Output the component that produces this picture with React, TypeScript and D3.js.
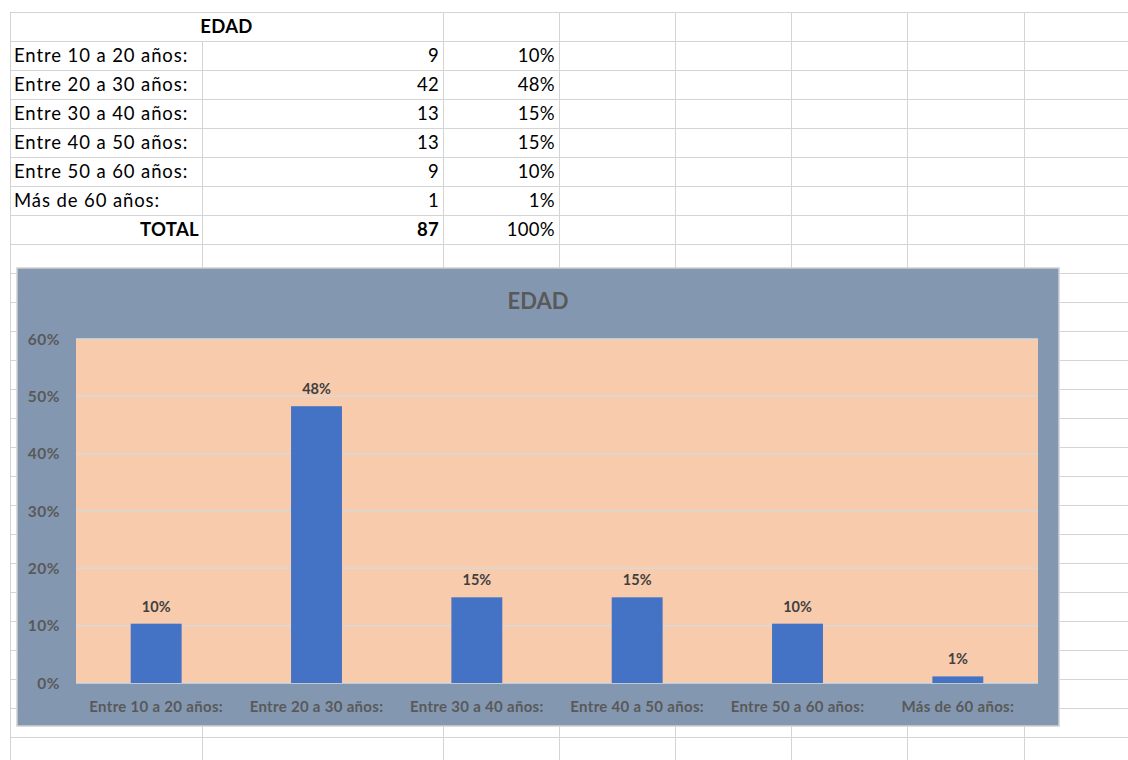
import React from "react";
import * as d3 from "d3";

const title = "EDAD";
const categories = [
  "Entre 10 a 20 años:",
  "Entre 20 a 30 años:",
  "Entre 30 a 40 años:",
  "Entre 40 a 50 años:",
  "Entre 50 a 60 años:",
  "Más de 60 años:",
];
const counts = [9, 42, 13, 13, 9, 1];
const totalLabel = "TOTAL";
const yTicks = [0, 0.1, 0.2, 0.3, 0.4, 0.5, 0.6];

const W = 1128;
const H = 760;
const FONT = "Lato, 'Open Sans', sans-serif";

export default function App() {
  const total = d3.sum(counts);
  const shares = counts.map((c) => c / total);
  const pct = d3.format(".0%");

  // spreadsheet grid
  const rowTop = 12;
  const rowH = 29;
  const colX = [10, 202, 443, 559, 675, 791, 907, 1024];
  const rowLines = d3.range(0, 27).map((k) => rowTop + rowH * k);

  // chart box
  const cx0 = 17, cx1 = 1059, cy0 = 268, cy1 = 726;
  const px0 = 76, px1 = 1038, py0 = 339, py1 = 683;

  const x = d3.scaleBand<string>().domain(categories).range([px0, px1]).paddingInner(0).paddingOuter(0);
  const y = d3.scaleLinear().domain([0, 0.6]).range([py1, py0]);
  const barW = x.bandwidth() / 3.15;

  const tableRows = categories.map((c, i) => ({ label: c, n: counts[i], p: pct(shares[i]) }));
  const ty = (r: number) => rowTop + rowH * r + rowH / 2 + 6.5;

  return (
    <div style={{ position: "absolute", left: 0, top: 0 }}>
      <svg width={W} height={H} style={{ display: "block", background: "#fff" }}>
        {/* grid */}
        <g stroke="#d4d4d4" strokeWidth={1} shapeRendering="crispEdges">
          {rowLines.map((yy, i) => (
            <line key={"h" + i} x1={colX[0]} x2={W} y1={yy + 0.5} y2={yy + 0.5} />
          ))}
          {colX.map((xx, i) => (
            <line key={"v" + i} x1={xx + 0.5} x2={xx + 0.5} y1={i === 1 ? rowTop + rowH : rowTop} y2={H} />
          ))}
        </g>

        {/* table text */}
        <g fontFamily={FONT} fontSize={18.5} fill="#000" letterSpacing={0.3}>
          <text x={(colX[0] + colX[2]) / 2} y={ty(0)} textAnchor="middle" fontWeight="bold">
            {title}
          </text>
          {tableRows.map((r, i) => (
            <g key={i}>
              <text x={colX[0] + 4} y={ty(i + 1)} letterSpacing={0.9}>{r.label}</text>
              <text x={colX[2] - 4} y={ty(i + 1)} textAnchor="end">{r.n}</text>
              <text x={colX[3] - 4} y={ty(i + 1)} textAnchor="end">{r.p}</text>
            </g>
          ))}
          <text x={colX[1] - 3} y={ty(7)} textAnchor="end" fontWeight="bold">{totalLabel}</text>
          <text x={colX[2] - 4} y={ty(7)} textAnchor="end" fontWeight="bold">{total}</text>
          <text x={colX[3] - 4} y={ty(7)} textAnchor="end">{pct(1)}</text>
        </g>

        {/* chart */}
        <rect x={cx0} y={cy0} width={cx1 - cx0} height={cy1 - cy0} fill="#8497b0" stroke="#d0d0d0" strokeWidth={1.5} />
        <rect x={px0} y={py0} width={px1 - px0} height={py1 - py0} fill="#f8cbad" />
        <g stroke="#d9d9d9" strokeWidth={1.5}>
          {yTicks.map((t) => (
            <line key={t} x1={px0} x2={px1} y1={y(t)} y2={y(t)} />
          ))}
        </g>
        <text x={(cx0 + cx1) / 2} y={309} textAnchor="middle" fontFamily={FONT} fontWeight="bold" fontSize={22} fill="#595959">
          {title}
        </text>
        <g fontFamily={FONT} fontWeight="bold" fill="#595959">
          {yTicks.map((t) => (
            <text key={t} x={60} y={y(t) + 5.5} textAnchor="end" fontSize={15.5} letterSpacing={0.5}>{pct(t)}</text>
          ))}
          {categories.map((c) => (
            <text key={c} x={(x(c) as number) + x.bandwidth() / 2} y={712} textAnchor="middle" fontSize={15} letterSpacing={0.3}>{c}</text>
          ))}
        </g>
        {categories.map((c, i) => {
          const cxm = (x(c) as number) + x.bandwidth() / 2;
          return (
            <g key={c}>
              <rect x={cxm - barW / 2} y={y(shares[i])} width={barW} height={py1 - y(shares[i])} fill="#4472c4" />
              <text x={cxm} y={y(shares[i]) - 12} textAnchor="middle" fontFamily={FONT} fontWeight="bold" fontSize={14.5} fill="#404040">
                {pct(shares[i])}
              </text>
            </g>
          );
        })}
      </svg>
    </div>
  );
}
